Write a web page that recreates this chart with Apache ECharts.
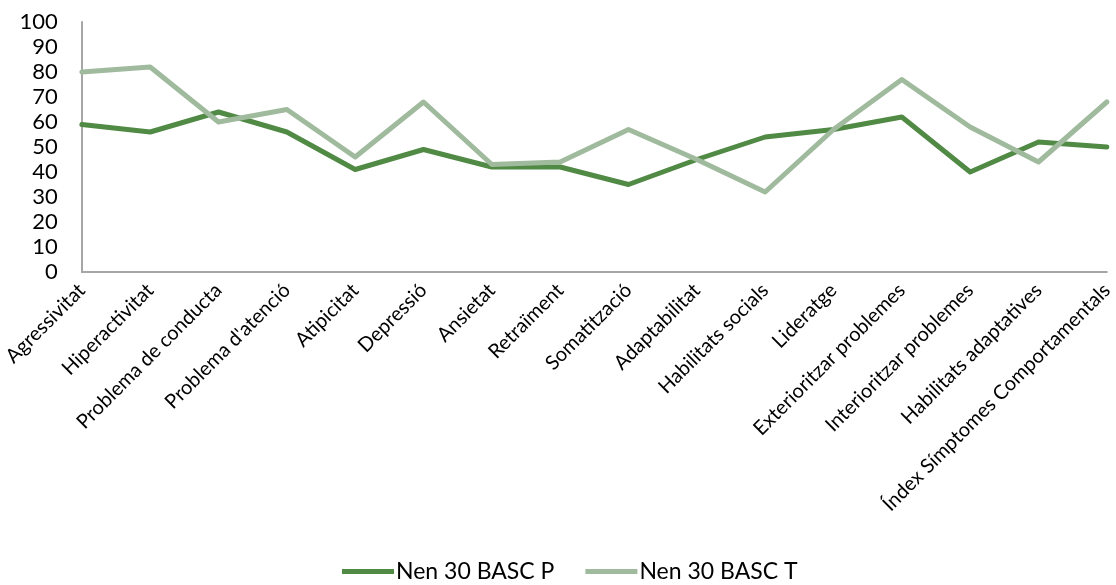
<!DOCTYPE html>
<html>
<head>
<meta charset="utf-8">
<script src="https://cdn.jsdelivr.net/npm/echarts@6/dist/echarts.min.js"></script>
<style>html,body{margin:0;padding:0;background:#fff}#c{width:1116px;height:585px}</style>
</head>
<body>
<div id="c"></div>
<script>
const categories = ["Agressivitat","Hiperactivitat","Problema de conducta","Problema d'atenció","Atipicitat","Depressió","Ansietat","Retraïment","Somatització","Adaptabilitat","Habilitats socials","Lideratge","Exterioritzar problemes","Interioritzar problemes","Habilitats adaptatives","Índex Símptomes Comportamentals"];
const seriesP = [59, 56, 64, 56, 41, 49, 42, 42, 35, 45, 54, 57, 62, 40, 52, 50];
const seriesT = [80, 82, 60, 65, 46, 68, 43, 44, 57, 45, 32, 57, 77, 58, 44, 68];
const nameP = "Nen 30 BASC P";
const nameT = "Nen 30 BASC T";
const FONT = "Lato";
const chart = echarts.init(document.getElementById('c'));
chart.setOption({
  animation: false,
  textStyle: {fontFamily: FONT, color: '#000'},
  grid: {left: 81, right: 8, top: 22, bottom: 313, containLabel: false},
  legend: {
    top: 555, left: 337,
    itemWidth: 52, itemHeight: 10, itemGap: 31,
    textStyle: {fontFamily: FONT, fontSize: 23, color: '#000', padding: [0,0,0,-3]},
    data: [
      {name: nameP, icon: 'path://M0,0 L10,0 L10,1 L0,1 Z'},
      {name: nameT, icon: 'path://M0,0 L10,0 L10,1 L0,1 Z'}
    ]
  },
  xAxis: {
    type: 'category', data: categories, boundaryGap: false,
    axisLine: {lineStyle: {color: '#a6a6a6', width: 2}},
    axisTick: {show: false},
    axisLabel: {interval: 0, rotate: 45, fontSize: 20, fontFamily: FONT, color: '#000', margin: 15}
  },
  yAxis: {
    type: 'value', min: 0, max: 100, interval: 10,
    axisLine: {show: true, lineStyle: {color: '#a6a6a6', width: 2}},
    axisTick: {show: false},
    splitLine: {show: false},
    axisLabel: {fontSize: 22, fontFamily: FONT, color: '#000', margin: 24}
  },
  series: [
    {name: nameP, type: 'line', data: seriesP, symbol: 'none', color: '#508a44',
     lineStyle: {width: 5, color: '#508a44', cap: 'round', join: 'round'}},
    {name: nameT, type: 'line', data: seriesT, symbol: 'none', color: '#9fba9c',
     lineStyle: {width: 5, color: '#9fba9c', cap: 'round', join: 'round'}}
  ]
});
</script>
</body>
</html>
